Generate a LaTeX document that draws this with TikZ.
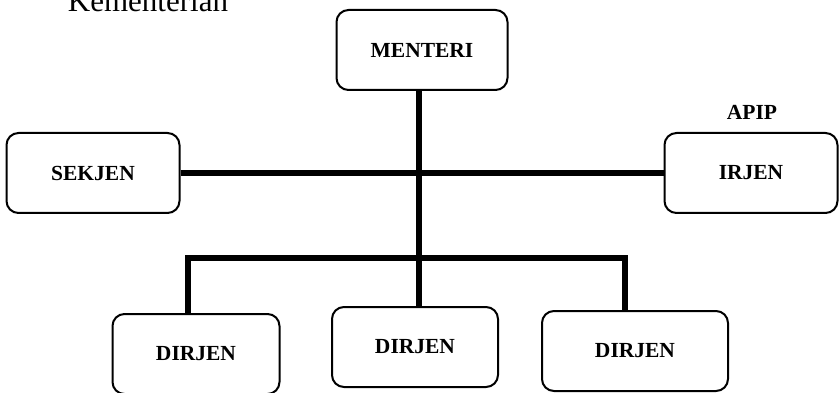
\documentclass[tikz,border=0pt]{standalone}
\usepackage{fontspec}
\setmainfont{Liberation Serif}
\usetikzlibrary{positioning, calc}

\tikzset{
  unitbox/.style={draw, line width=2pt, rounded corners=12pt,
    minimum width=170pt, minimum height=80pt,
    font=\bfseries\fontsize{21.5}{25}\selectfont},
  bus/.style={line width=5.5pt}
}

\begin{document}
\begin{tikzpicture}[x=1pt, y=-1pt]
  \clip (0,0) rectangle (839,393);
  \fill[white] (0,0) rectangle (839,393);

  %--- title, cut off at the top ---
  \node[anchor=base, font=\fontsize{31}{36}\selectfont, inner sep=0pt]
    (kementerian) at (148,12) {Kementerian};

  %--- top level ---
  \node[unitbox, minimum width=171pt] (menteri) at (422,50) {MENTERI};
  \node[unitbox, minimum width=173pt] (sekjen) at (93,173) {SEKJEN};
  \node[unitbox, minimum width=173pt] (irjen) at (751,173) {IRJEN};
  \node[font=\bfseries\fontsize{21.5}{25}\selectfont] (apip) at (752,112) {APIP};

  %--- directorates ---
  \node[unitbox, minimum width=167pt] (dirjenA) at (196,354) {DIRJEN};
  \node[unitbox, minimum width=166pt] (dirjenB) at (415,347) {DIRJEN};
  \node[unitbox, minimum width=186pt] (dirjenC) at (635,351) {DIRJEN};

  %--- connectors ---
  \coordinate (busL) at (188,258);
  \coordinate (busR) at (625,258);
  \draw[bus] (sekjen.east) -- (irjen.west);
  \draw[bus] (menteri.south -| 419,0) -- (dirjenB.north -| 419,0);
  \draw[bus] (busL |- dirjenA.north) -- (busL) -- (busR) -- (busR |- dirjenC.north);
\end{tikzpicture}
\end{document}
